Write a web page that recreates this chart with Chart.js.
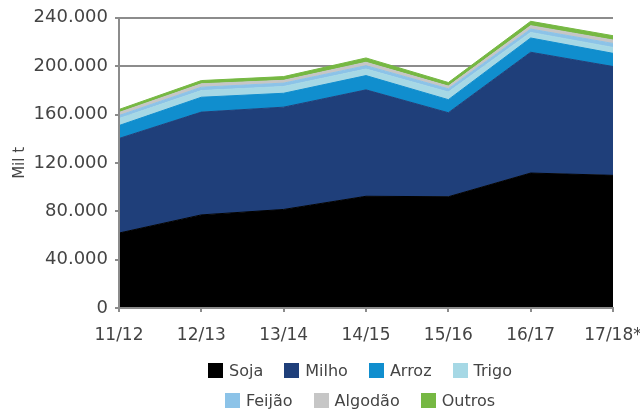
<!DOCTYPE html>
<html><head><meta charset="utf-8">
<script src="https://cdn.jsdelivr.net/npm/chart.js@4/dist/chart.umd.min.js"></script>
<style>
html,body{margin:0;padding:0;background:#fff;}
#wrap{position:relative;width:640px;height:410px;overflow:hidden;}
#legend{position:absolute;left:100px;width:520px;top:355px;font-family:"DejaVu Sans";font-size:16px;color:#444444;}
.row{display:flex;justify-content:center;height:30px;align-items:center;white-space:nowrap;}
.item{display:flex;align-items:center;margin:0 10.5px;}
.box{width:15px;height:15px;margin-right:6px;}
</style></head>
<body><div id="wrap"><canvas id="c" width="640" height="410"></canvas><div id="legend"></div></div>
<script>
const categories = ['11/12','12/13','13/14','14/15','15/16','16/17','17/18*'];
const seriesNames = ['Soja','Milho','Arroz','Trigo','Feijão','Algodão','Outros'];
const soja    = [62000, 77000, 81500, 92400, 92000, 111600, 109700];
const milho   = [78200, 85000, 84600, 88000, 69500, 99900, 90000];
const arroz   = [10700, 12300, 11500, 11800, 10800, 11800, 10900];
const trigo   = [5800, 5500, 5600, 5400, 6300, 4600, 4900];
const feijao  = [2500, 2800, 2800, 2800, 2700, 2800, 3300];
const algodao = [2500, 2800, 2300, 2800, 2200, 2800, 2800];
const outros  = [2500, 2700, 3100, 3600, 3000, 3600, 3600];
const yTickLabelStep = 40000;
const yGridStep = 20000;
const yMax = 240000;

const seriesValues = [soja, milho, arroz, trigo, feijao, algodao, outros];
const colors = ['#000000','#1f3f7a','#108ece','#a6d8e5','#8cc3e8','#c6c6c6','#76b843'];
const gray = '#8c8c8c';
const textColor = '#444444';
const fmt = v => String(v).replace(/\B(?=(\d{3})+(?!\d))/g, '.');

Chart.defaults.font.family = "'DejaVu Sans'";
Chart.defaults.color = textColor;

const axisLines = {
  id: 'axisLines',
  afterDatasetsDraw(chart) {
    const {ctx, chartArea: a} = chart;
    ctx.save();
    ctx.strokeStyle = gray; ctx.lineWidth = 2;
    ctx.beginPath();
    ctx.moveTo(a.left, a.top);
    ctx.lineTo(a.left, a.bottom);
    ctx.lineTo(a.right, a.bottom);
    ctx.stroke();
    ctx.restore();
  }
};

const datasets = seriesNames.map((name, i) => ({
  label: name,
  data: seriesValues[i],
  backgroundColor: colors[i],
  borderColor: colors[i],
  borderWidth: 1,
  pointRadius: 0,
  tension: 0,
  fill: i === 0 ? 'origin' : '-1'
}));

const chart = new Chart(document.getElementById('c'), {
  type: 'line',
  data: { labels: categories, datasets },
  options: {
    responsive: false,
    animation: false,
    layout: { padding: { top: 17, left: 0, right: 0, bottom: 62 } },
    plugins: { legend: { display: false }, tooltip: { enabled: false } },
    scales: {
      x: {
        offset: false,
        ticks: { font: { size: 17 }, color: textColor, padding: 13, maxRotation: 0, autoSkip: false },
        grid: { drawOnChartArea: false, tickLength: 4, color: gray, lineWidth: 2 },
        border: { display: true, color: gray, width: 2 },
        afterFit: s => { s.height = 40; s.paddingRight = 27; }
      },
      y: {
        stacked: true, min: 0, max: yMax,
        ticks: { stepSize: yGridStep, font: { size: 18 }, color: textColor, padding: 7,
                 callback: v => (v % yTickLabelStep === 0 ? fmt(v) : '') },
        grid: { color: gray, lineWidth: 2, tickLength: 4 },
        border: { display: true, color: gray, width: 2 },
        title: { display: true, text: 'Mil t', font: { size: 15 }, color: textColor, padding: { top: 11, bottom: 0 } },
        afterFit: s => { s.width = 119; }
      }
    }
  },
  plugins: [axisLines]
});

// HTML legend built from chart datasets (two rows as in reference)
const legendEl = document.getElementById('legend');
const rows = [[0,1,2,3],[4,5,6]];
rows.forEach(r => {
  const row = document.createElement('div'); row.className = 'row';
  r.forEach(i => {
    const ds = chart.data.datasets[i];
    const it = document.createElement('div'); it.className = 'item';
    const b = document.createElement('span'); b.className = 'box'; b.style.background = ds.backgroundColor;
    const t = document.createElement('span'); t.textContent = ds.label;
    it.appendChild(b); it.appendChild(t); row.appendChild(it);
  });
  legendEl.appendChild(row);
});
</script>
</body></html>
